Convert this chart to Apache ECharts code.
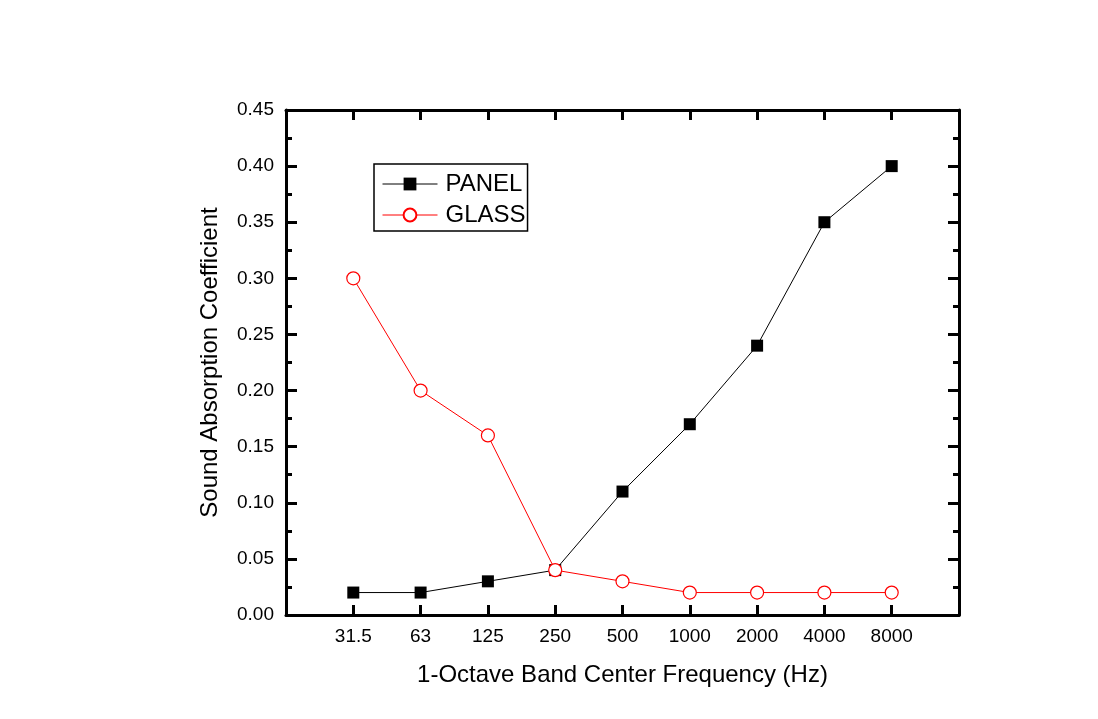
<!DOCTYPE html>
<html>
<head>
<meta charset="utf-8">
<script src="https://cdn.jsdelivr.net/npm/echarts@6/dist/echarts.min.js"></script>
<style>
  html, body { margin: 0; padding: 0; background: #fff; }
  #chart { width: 1098px; height: 719px; }
</style>
</head>
<body>
<div id="chart"></div>
<script>
// 频率类别
var freqs = ["31.5", "63", "125", "250", "500", "1000", "2000", "4000", "8000"];
var panel = [0.02, 0.02, 0.03, 0.04, 0.11, 0.17, 0.24, 0.35, 0.40];
var glass = [0.30, 0.20, 0.16, 0.04, 0.03, 0.02, 0.02, 0.02, 0.02];
var yTicks = ["0.00", "0.05", "0.10", "0.15", "0.20", "0.25", "0.30", "0.35", "0.40", "0.45"];

// pad one empty slot on each side so the points sit away from the frame
var axisCats = [""].concat(freqs, [""]);
function pad(arr) { return [null].concat(arr, [null]); }

var font = "Liberation Sans, Arial, sans-serif";
var lastIdx = axisCats.length - 1;
var tickFn = function (idx) { return idx !== 0 && idx !== lastIdx; };

var myChart = echarts.init(document.getElementById("chart"));
var option = {
  animation: false,
  backgroundColor: "#fff",
  grid: { left: 286, top: 110, right: 139, bottom: 104, containLabel: false },
  legend: {
    orient: "vertical",
    left: 374,
    top: 164,
    data: ["PANEL", "GLASS"],
    itemWidth: 55,
    itemHeight: 16,
    itemGap: 7,
    padding: [8, 2, 4, 8],
    borderColor: "#000",
    borderWidth: 1.5,
    lineStyle: { width: 1 },
    textStyle: { fontFamily: font, fontSize: 24, color: "#000", padding: [0, 0, 0, 3] }
  },
  xAxis: [
    {
      type: "category",
      data: axisCats,
      boundaryGap: false,
      name: "1-Octave Band Center Frequency (Hz)",
      nameLocation: "middle",
      nameGap: 48,
      nameTextStyle: { fontFamily: font, fontSize: 24, color: "#000" },
      axisLine: { onZero: false, lineStyle: { color: "#000", width: 3 } },
      axisTick: { show: true, inside: true, length: 10, interval: tickFn, lineStyle: { width: 3, color: "#000" } },
      axisLabel: { interval: 0, margin: 12, fontFamily: font, fontSize: 19, color: "#000" },
      splitLine: { show: false }
    },
    {
      type: "category",
      data: axisCats,
      boundaryGap: false,
      position: "top",
      axisLine: { show: true, onZero: false, lineStyle: { color: "#000", width: 3 } },
      axisTick: { show: true, inside: true, length: 10, interval: tickFn, lineStyle: { width: 3, color: "#000" } },
      axisLabel: { show: false },
      splitLine: { show: false }
    }
  ],
  yAxis: [
    {
      type: "value",
      min: 0,
      max: 0.45,
      interval: 0.05,
      name: "Sound Absorption Coefficient",
      nameLocation: "middle",
      nameGap: 64,
      nameTextStyle: { fontFamily: font, fontSize: 24, color: "#000" },
      axisLine: { show: true, onZero: false, lineStyle: { color: "#000", width: 3 } },
      axisTick: { show: true, inside: true, length: 11, lineStyle: { width: 3, color: "#000" } },
      minorTick: { show: true, splitNumber: 2, length: 6, lineStyle: { width: 3, color: "#000" } },
      axisLabel: {
        margin: 12, fontFamily: font, fontSize: 19, color: "#000",
        formatter: function (v) { return yTicks[Math.round(v / 0.05)]; }
      },
      splitLine: { show: false }
    },
    {
      type: "value",
      min: 0,
      max: 0.45,
      interval: 0.05,
      position: "right",
      axisLine: { show: true, onZero: false, lineStyle: { color: "#000", width: 3 } },
      axisTick: { show: true, inside: true, length: 11, lineStyle: { width: 3, color: "#000" } },
      minorTick: { show: true, splitNumber: 2, length: 6, lineStyle: { width: 3, color: "#000" } },
      axisLabel: { show: false },
      splitLine: { show: false }
    }
  ],
  series: [
    {
      name: "PANEL",
      type: "line",
      data: pad(panel),
      symbol: "rect",
      symbolSize: 12,
      lineStyle: { color: "#000", width: 1 },
      itemStyle: { color: "#000", borderWidth: 0 },
      z: 3
    },
    {
      name: "GLASS",
      type: "line",
      data: pad(glass),
      symbol: "circle",
      symbolSize: 13,
      lineStyle: { color: "#f00", width: 1 },
      itemStyle: { color: "#fff", borderColor: "#f00", borderWidth: 1.2 },
      z: 4
    }
  ]
};
myChart.setOption(option);
</script>
</body>
</html>
